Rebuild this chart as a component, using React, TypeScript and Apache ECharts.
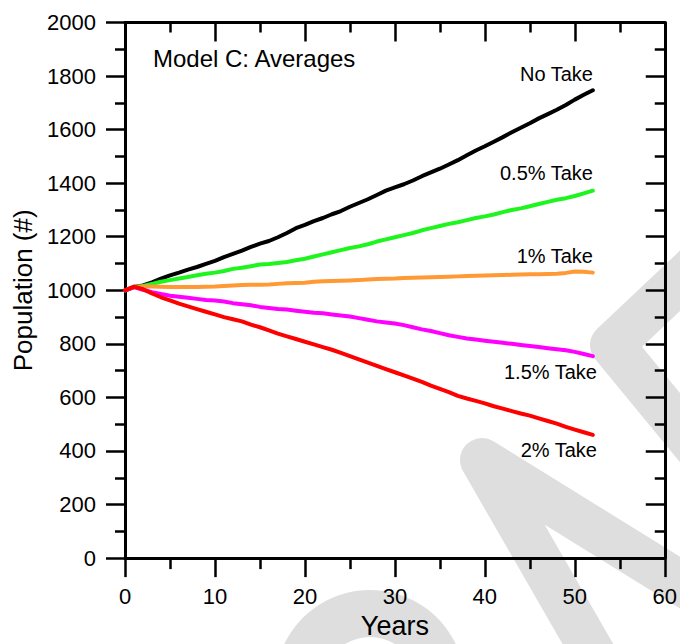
import React, { useEffect, useRef } from "react";
import * as echarts from "echarts";

const YEARS = [0, 1, 2, 3, 4, 5, 6, 7, 8, 9, 10, 11, 12, 13, 14, 15, 16, 17, 18, 19, 20, 21, 22, 23, 24, 25, 26, 27, 28, 29, 30, 31, 32, 33, 34, 35, 36, 37, 38, 39, 40, 41, 42, 43, 44, 45, 46, 47, 48, 49, 50, 51, 52];

const NO_TAKE = [1000, 1012, 1018, 1030, 1044, 1056, 1066, 1077, 1087, 1099, 1110, 1124, 1136, 1148, 1162, 1174, 1184, 1198, 1214, 1232, 1244, 1258, 1270, 1284, 1296, 1312, 1326, 1340, 1356, 1372, 1384, 1396, 1410, 1426, 1440, 1454, 1470, 1486, 1504, 1522, 1538, 1555, 1572, 1590, 1607, 1624, 1642, 1658, 1674, 1692, 1712, 1730, 1747];

const TAKE_05 = [1000, 1012, 1016, 1024, 1032, 1038, 1044, 1050, 1056, 1062, 1066, 1072, 1080, 1084, 1090, 1096, 1098, 1102, 1106, 1112, 1118, 1126, 1134, 1142, 1150, 1158, 1164, 1172, 1182, 1190, 1198, 1206, 1214, 1224, 1232, 1240, 1248, 1254, 1262, 1270, 1276, 1283, 1292, 1300, 1306, 1314, 1322, 1330, 1338, 1344, 1352, 1362, 1372];

const TAKE_1 = [1000, 1012, 1014, 1014, 1013, 1012, 1012, 1012, 1012, 1013, 1014, 1016, 1018, 1020, 1021, 1021, 1022, 1024, 1026, 1027, 1028, 1032, 1034, 1035, 1036, 1037, 1038, 1040, 1042, 1043, 1044, 1046, 1047, 1048, 1049, 1050, 1051, 1052, 1053, 1054, 1055, 1056, 1057, 1058, 1059, 1060, 1060, 1061, 1062, 1065, 1070, 1069, 1066];

const TAKE_15 = [1000, 1012, 1002, 993, 986, 980, 976, 972, 968, 964, 962, 958, 952, 948, 944, 938, 934, 930, 928, 924, 920, 916, 914, 910, 906, 902, 896, 890, 884, 880, 876, 870, 862, 854, 848, 840, 832, 826, 820, 816, 812, 808, 804, 800, 796, 792, 788, 784, 780, 776, 770, 762, 754];

const TAKE_2 = [1000, 1014, 1004, 988, 974, 962, 950, 940, 930, 920, 910, 900, 892, 884, 872, 862, 850, 838, 828, 818, 808, 798, 788, 778, 766, 754, 742, 730, 718, 706, 694, 682, 670, 658, 644, 632, 620, 606, 596, 587, 578, 567, 558, 549, 540, 532, 522, 512, 502, 490, 480, 470, 460];

const SERIES_NAMES = ["No Take", "0.5% Take", "1% Take", "1.5% Take", "2% Take"];
const SERIES_VALUES = [NO_TAKE, TAKE_05, TAKE_1, TAKE_15, TAKE_2];
const SERIES_COLORS = ["#000000", "#1ef51e", "#ff9933", "#ff00ff", "#ff0000"];

const X_MIN = 0;
const X_MAX = 60;
const X_STEP = 10;
const Y_MIN = 0;
const Y_MAX = 2000;
const Y_STEP = 200;

const TITLE = "Model C: Averages";
const X_NAME = "Years";
const Y_NAME = "Population (#)";

const FONT = "Liberation Sans, Arial, Helvetica, sans-serif";
const WM = "#dedede";

export default function App() {
  const ref = useRef<HTMLDivElement | null>(null);

  useEffect(() => {
    if (!ref.current) return;
    const chart = echarts.init(ref.current, null, { renderer: "svg" });

    const axisLine = { show: true, onZero: false, lineStyle: { color: "#000", width: 3 } };
    const tickStyle = { color: "#000", width: 2.5 };

    const xBase = {
      type: "value" as const,
      min: X_MIN,
      max: X_MAX,
      interval: X_STEP,
      splitLine: { show: false },
      axisLine,
    };
    const yBase = {
      type: "value" as const,
      min: Y_MIN,
      max: Y_MAX,
      interval: Y_STEP,
      splitLine: { show: false },
      axisLine,
    };

    const labelRight = [
      { text: SERIES_NAMES[0], x: 593, y: 74 },
      { text: SERIES_NAMES[1], x: 593, y: 173 },
      { text: SERIES_NAMES[2], x: 593, y: 256 },
      { text: SERIES_NAMES[3], x: 597, y: 372 },
      { text: SERIES_NAMES[4], x: 597, y: 450 },
    ];

    const plain = (v: number) => String(v);

    chart.setOption({
      animation: false,
      backgroundColor: "#fff",
      textStyle: { fontFamily: FONT },
      grid: { left: 125, top: 22.5, right: 15, bottom: 81.3, containLabel: false },
      xAxis: [
        {
          ...xBase,
          position: "bottom",
          name: X_NAME,
          nameLocation: "middle",
          nameGap: 51,
          nameTextStyle: { fontSize: 27, color: "#000", fontFamily: FONT },
          axisTick: { show: true, inside: false, length: 19, lineStyle: tickStyle },
          minorTick: { show: true, splitNumber: 2, length: 11, lineStyle: tickStyle },
          axisLabel: { show: true, margin: 27, fontSize: 22, color: "#000", fontFamily: FONT, formatter: plain },
        },
        {
          ...xBase,
          position: "top",
          axisTick: { show: true, inside: true, length: 19, lineStyle: tickStyle },
          minorTick: { show: true, splitNumber: 2, length: 10, lineStyle: tickStyle },
          axisLabel: { show: false },
        },
      ],
      yAxis: [
        {
          ...yBase,
          position: "left",
          name: Y_NAME,
          nameLocation: "middle",
          nameGap: 86,
          nameRotate: 90,
          nameTextStyle: { fontSize: 26, color: "#000", fontFamily: FONT },
          axisTick: { show: true, inside: false, length: 19, lineStyle: tickStyle },
          minorTick: { show: true, splitNumber: 2, length: 10, lineStyle: tickStyle },
          axisLabel: { show: true, margin: 29, fontSize: 22, color: "#000", fontFamily: FONT, formatter: plain },
        },
        {
          ...yBase,
          position: "right",
          axisTick: { show: true, inside: true, length: 19, lineStyle: tickStyle },
          minorTick: { show: true, splitNumber: 2, length: 10, lineStyle: tickStyle },
          axisLabel: { show: false },
        },
      ],
      graphic: [
        {
          type: "ring",
          z: -10,
          silent: true,
          shape: { cx: 370, cy: 685, r: 95, r0: 48 },
          style: { fill: WM },
        },
        {
          type: "polyline",
          z: -10,
          silent: true,
          shape: { points: [[600, 665], [482, 460], [700, 595]] },
          style: { stroke: WM, lineWidth: 44, lineCap: "round", lineJoin: "round", fill: "none" },
        },
        {
          type: "polyline",
          z: -10,
          silent: true,
          shape: { points: [[700, 262], [612, 345], [700, 452]] },
          style: { stroke: WM, lineWidth: 44, lineCap: "round", lineJoin: "round", fill: "none" },
        },
        {
          type: "text",
          z: 10,
          left: 153,
          top: 46,
          style: { text: TITLE, fontSize: 24, fill: "#000", fontFamily: FONT },
        },
        ...labelRight.map((l) => ({
          type: "text",
          z: 10,
          x: l.x,
          y: l.y,
          style: {
            text: l.text,
            fontSize: 20,
            fill: "#000",
            fontFamily: FONT,
            align: "right",
            verticalAlign: "middle",
          },
        })),
      ],
      series: SERIES_VALUES.map((vals, si) => ({
        type: "line",
        name: SERIES_NAMES[si],
        xAxisIndex: 0,
        yAxisIndex: 0,
        showSymbol: false,
        symbol: "none",
        smooth: false,
        data: YEARS.map((yr, i) => [yr, vals[i]]),
        lineStyle: { color: SERIES_COLORS[si], width: 4, cap: "round", join: "round" },
        itemStyle: { color: SERIES_COLORS[si] },
        z: 3 + si,
      })),
    });

    return () => {
      chart.dispose();
    };
  }, []);

  return (
    <div
      ref={ref}
      style={{ position: "fixed", left: 0, top: 0, width: 680, height: 644, background: "#fff" }}
    />
  );
}
